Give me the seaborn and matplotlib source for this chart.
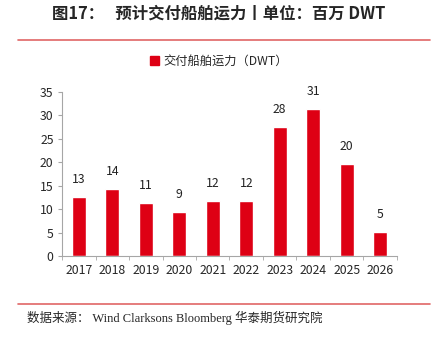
import matplotlib
matplotlib.use("Agg")
import matplotlib.pyplot as plt
import seaborn as sns
import pandas as pd
import numpy as np
from matplotlib.lines import Line2D
from matplotlib.patches import Patch

years = ["2017", "2018", "2019", "2020", "2021", "2022", "2023", "2024", "2025", "2026"]
values = [12.65, 14.2, 11.3, 9.3, 11.65, 11.7, 27.6, 31.3, 19.55, 5.05]
series_name = "交付船舶运力（DWT）"
title = "图17：   预计交付船舶运力丨单位：百万 DWT"
source = "数据来源： Wind Clarksons Bloomberg 华泰期货研究院"

sns.set_style("white")
plt.rcParams['font.family'] = ['Noto Sans CJK SC', 'DejaVu Sans']

df = pd.DataFrame({"year": years, "value": values})
red = "#DE0014"

fig = plt.figure(figsize=(4.38, 3.38), dpi=100)
ax = fig.add_axes([62/438, 1-256/338, (397-62)/438, (256-92)/338])
sns.barplot(data=df, x="year", y="value", color=red, width=0.41, ax=ax,
            saturation=1, label=series_name)
ax.set_ylim(0, 35)
ax.set_xlim(-0.5, len(years)-0.5)
ax.set_yticks(np.arange(0, 36, 5))
ax.set_xlabel("")
ax.set_ylabel("")
for c in ax.containers:
    ax.bar_label(c, fmt="%.0f", padding=8, fontsize=8.8, color="#222222")
for s in ["top", "right"]:
    ax.spines[s].set_visible(False)
for s in ["left", "bottom"]:
    ax.spines[s].set_color("#A6A6A6")
    ax.spines[s].set_linewidth(0.8)
ax.tick_params(axis="y", which="major", length=3, direction="out", color="#A6A6A6",
               labelsize=8.8, pad=3, left=True)
ax.tick_params(axis="x", which="major", length=0, labelsize=8.8, pad=6)
ax.set_xticks(np.arange(-0.5, len(years), 1), minor=True)
ax.tick_params(axis="x", which="minor", length=3, direction="out", color="#A6A6A6", bottom=True)
if ax.get_legend():
    ax.get_legend().remove()

fig.legend(handles=[Patch(color=red, label=series_name)], loc="center",
           bbox_to_anchor=(0.5, 1-61/338), frameon=False, fontsize=8.8,
           handlelength=0.7, handleheight=0.7, handletextpad=0.4)

fig.text(0.5, 1-14/338, title, ha="center", va="center", fontsize=11.8, fontweight="bold")
fig.add_artist(Line2D([18/438, 430/438], [1-40/338, 1-40/338], color="#E06666", lw=1.2))
fig.add_artist(Line2D([18/438, 430/438], [1-304/338, 1-304/338], color="#E06666", lw=1.2))
fig.text(27/438, 1-318/338, source, ha="left", va="center", fontsize=9,
         family=['Liberation Serif', 'Noto Sans CJK SC'])

fig.savefig("out.png", dpi=100)
